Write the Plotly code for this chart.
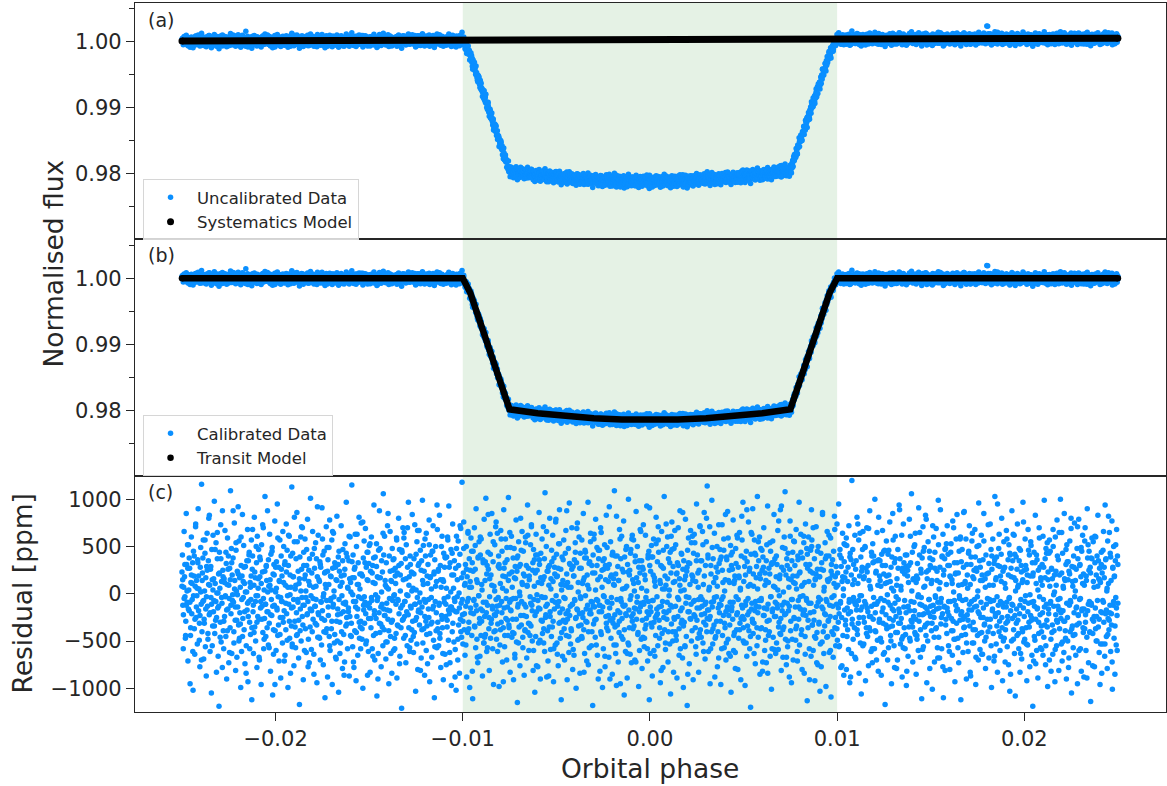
import numpy as np
import plotly.graph_objects as go
from plotly.subplots import make_subplots

# ---- values ----
# phase range covered by the (phase-folded) observations
phase_start = -0.025
phase_end = 0.025

# residuals (units of 10 ppm), visit 1, in time order
visit1_resid_10ppm = [
23,41,-12,-58,7,66,18,-3,-47,-29,85,31,-9,52,-71,-16,4,38,27,-95,
-44,12,60,-21,-6,33,-102,45,19,-37,-64,8,71,-25,14,-2,-53,36,90,-18,
5,-31,-77,28,49,-11,116,-40,22,-8,57,-69,-27,3,43,-56,17,-87,29,64,
-13,-48,35,80,-22,9,-61,26,-4,-105,47,15,-34,62,-19,-7,98,-42,11,-28,
54,-83,1,37,-15,-66,21,-119,44,6,-30,73,-51,13,-10,88,25,-39,-58,16,
-24,67,-2,-45,32,-90,10,59,-16,40,-73,-5,27,-36,109,-12,48,-63,20,-1,
38,-9,-52,75,14,-28,-81,46,3,-67,24,-14,92,-33,56,-47,-20,7,-99,30,
-61,19,84,-26,-4,51,-38,11,-74,29,145,-55,2,-17,68,-93,35,-8,44,-30,
12,-43,-6,57,-112,26,40,-19,-63,9,81,-35,17,-50,-2,33,-78,61,-24,6,
47,-27,-70,18,36,-8,-96,52,-13,23,-41,70,-58,4,-26,103,-11,-45,29,14,
-36,88,-19,-54,8,-31,63,15,-82,42,-6,-23,49,-107,21,-64,31,-12,77,-39,
2,-60,34,-15,95,-44,-3,28,-71,13,57,-25,-89,40,-8,19,-52,66,-30,50,
-18,31,-65,9,-38,74,-21,46,-2,-99,30,-11,61,-47,20,-84,7,-34,113,-56,
43,-14,18,-76,55,-29,5,-57,37,-20,86,-43,-6,24,-68,11,-117,39,-16,60,
-50,26,-4,70,-33,-91,44,-12,16,58,-37,3,-62,30,-22,79,-8,-48,25,-73,
9,-35,101,-17,-59,22,-40,66,-27,7,-85,48,-13,-31,54,-6,37,-94,18,-46,
62,-22,-46,13,34,-70,28,-9,-54,91,-18,41,-75,0,45,-28,-110,23,-41,71,
-7,49,-88,36,-23,10,-45,78,-60,19,-5,-37,57,-96,27,-14,64,-3,-52,33,
29,-67,15,-29,82,-50,-16,31,-104,45,24,-63,8,-21,72,-40,12,-79,47,-10,
-43,20,-72,53,-11,-34,97,-25,39,-58,6,-19,35,-87,16,60,-44,2,-31,115,
17,-56,41,-8,-78,26,-39,63,-14,-92,50,-24,10,-65,33,-3,81,-47,21,-35,
-29,75,-5,-48,19,-100,38,-17,56,-31,-9,69,-53,28,-12,44,-86,14,-61,32,
51,-15,-83,24,-36,60,-7,-58,30,12,-44,94,-22,-70,39,-1,-26,53,-108,18,
-4,-63,46,-20,88,-41,17,-32,-77,35,-11,23,-55,106,-16,-38,61,-23,9,-69,
33,-10,-51,72,-27,5,-95,40,-18,66,-45,14,-30,-84,48,-7,25,-60,37,-1,
-58,27,11,-42,59,-89,22,-6,-34,80,-21,47,-66,3,-15,32,-121,44,-28,70,
15,-47,65,-24,-8,37,-73,52,-19,-55,28,-2,97,-36,18,-61,40,-13,-49,23,
-38,84,-29,6,-62,21,-41,73,-11,-103,42,-25,55,-4,-80,30,-17,67,-33,1,
46,-20,-68,35,-14,99,-52,10,-37,24,-86,58,-9,-29,64,-43,19,-74,31,-6,
-25,52,-93,17,41,-32,5,-67,45,-16,72,-49,21,-110,36,-8,50,-39,13,-57,
68,-30,24,-55,-12,83,-42,30,-78,7,-23,61,-36,15,-91,43,-5,28,-64,38,
-11,-75,39,-28,60,-3,-49,93,-21,-62,33,-14,47,-97,20,-40,74,-17,6,-51,
35,-8,-59,27,-102,48,-19,15,-70,56,-33,1,-84,42,-27,69,-10,-46,118,-22,
-53,22,76,-38,9,-65,31,-13,50,-88,18,-41,64,-5,-30,37,-99,25,-15,59,
7,-44,33,-111,45,-21,-6,70,-35,26,-57,90,-18,-48,12,-73,39,-2,55,-31,
-66,41,-16,58,-29,4,-87,36,-9,-52,79,-24,14,-43,101,-20,-61,30,-12,44,
26,-37,-81,16,63,-47,20,-27,85,-13,-58,34,-96,8,-22,52,-39,71,-6,-48,
-19,64,-32,-4,40,-98,27,-54,11,67,-30,-8,45,-72,19,-36,89,-15,-56,33,
58,-26,3,-70,36,-14,-44,102,-33,21,-9,-83,49,-18,61,-46,7,-27,38,-91,
-42,17,-64,29,-5,78,-51,24,-115,40,-11,55,-35,2,-76,31,-23,46,-8,66,
10,-57,45,-23,-86,19,-38,60,-14,30,-68,8,94,-41,27,-60,15,-32,-3,52,
-34,73,-12,-50,25,-81,47,-6,36,-104,22,-45,63,-19,-1,41,-77,12,-52,86,
31,-16,-90,43,-28,11,58,-42,-4,71,-37,18,-61,107,-25,-13,50,-88,24,-39,
-71,28,9,-35,80,-24,-59,16,-45,34,-7,62,-29,-93,38,-16,21,-54,76,-2,
42,-52,19,-13,-76,53,-31,89,-20,-47,26,-112,4,39,-66,14,-28,57,-37,9,
-5,-30,67,-44,21,-91,12,-18,48,-62,96,-23,31,-53,7,-39,70,-11,-80,29,
19,-65,36,-7,54,-26,-100,33,-16,75,-49,2,-34,60,-21,-84,43,-5,27,-45,
-47,11,-25,85,-38,17,-63,46,-2,-29,38,-71,20,-12,97,-40,5,-57,34,-17,
64,-21,-55,30,-9,-118,41,-32,58,-14,22,-46,79,-27,-6,49,-65,15,-90,37,
-12,46,-82,18,-40,65,-19,7,-99,35,-58,26,-3,52,-77,30,-24,83,-36,-8,
27,-39,13,-67,92,-15,-28,55,-47,20,-10,-85,44,-31,16,-54,109,-22,40,-63,
-54,82,-6,-33,29,-72,14,-41,68,-20,-95,37,-8,61,-26,5,-48,23,-13,-107,
39,-12,-61,47,-23,8,-89,31,-52,100,-17,-36,25,-64,43,-2,-73,58,-29,15,
-21,57,-34,3,-70,40,-16,87,-27,-9,50,-43,12,-98,35,-60,22,-14,66,-48,
6,-79,28,-46,73,-11,-56,20,-37,62,-4,-26,93,-19,-71,38,-8,45,-112,30,
-63,24,-19,51,-35,-87,39,-7,58,-30,17,-66,8,-44,81,-23,-3,34,-55,71,
44,-28,-47,14,-94,30,-13,66,-42,5,-78,27,-25,103,-38,19,-59,9,-20,50,
-9,60,-72,37,-18,4,-53,44,-106,22,-32,76,-14,-50,29,-83,48,-27,13,-40,
52,-44,21,-89,33,-24,70,-6,-37,16,88,-58,3,-31,42,-15,-68,26,-99,35,
-30,15,-56,79,-10,-45,24,-118,46,-19,59,-4,-74,32,-26,67,-11,-50,20,61,
18,-91,43,-22,-7,54,-36,13,-64,95,-28,41,-47,7,-83,25,-15,72,-38,-3,
-46,35,-13,66,-52,10,-30,86,-21,-69,30,-9,55,-40,114,-17,38,-61,4,-27,
71,-24,-58,21,-40,99,-14,-53,37,-8,-33,64,-88,17,-45,28,-3,50,-77,23,
-15,-68,32,-11,47,-29,-96,39,-6,73,-44,12,-23,58,-57,3,-36,84,-19,-52,
36,-17,87,-48,14,-63,25,-33,-9,51,-104,30,-14,44,-27,78,-60,11,-41,19,
-62,48,-3,-38,62,-20,-80,28,-47,17,65,-31,6,-91,40,-12,57,-24,97,-36,
13,-52,29,-97,20,-8,45,-66,34,-22,-5,76,-39,24,-58,10,-120,42,-16,63,
-27,90,-42,8,-31,57,-18,-74,41,-13,29,-55,103,-20,-46,35,-7,60,-85,16,
48,-7,-36,25,-82,39,-23,70,-15,-60,22,-38,14,-73,52,-29,93,-11,-44,27,
-40,21,-66,45,-3,-101,33,-19,56,-46,8,84,-24,37,-9,-63,18,-52,31,-15,
4,-59,77,-30,16,-42,89,-26,-81,28,-12,49,-67,2,-35,60,-22,108,-48,20,
-75,37,-10,-56,43,-18,7,-88,26,61,-39,15,-94,35,-6,44,-70,12,-25,55,
30,-14,-49,68,-34,19,-71,40,-7,-27,97,-54,23,-16,63,-43,8,-80,38,-2,
-19,54,-84,12,-45,74,-23,-5,48,-113,27,-36,60,-10,-58,31,-20,46,-66,89,
57,-33,22,-60,9,-28,37,-92,15,-47,71,-13,-41,26,-75,50,-4,-30,18,-103,
-6,43,-77,33,-51,86,-16,25,-63,7,-34,54,-22,-98,40,-8,66,-45,13,-28,
40,-62,16,-24,59,-109,31,-40,20,-13,-67,45,-2,82,-36,18,-55,29,-11,74,
-49,9,-30,95,-21,-55,47,-10,-78,38,-25,13,64,-44,5,-86,34,-17,52,-33,
23,-80,51,-15,-38,28,-59,72,-6,-94,43,-19,36,-63,120,-27,10,-48,31,-8,
-36,62,-11,-69,35,-17,81,-43,11,-31,57,-84,19,-2,-52,39,-106,24,-14,47,
66,-25,-53,18,-8,49,-92,27,-36,70,-15,-45,30,-76,14,-24,88,-39,5,-61,
-13,40,-73,53,-27,-4,34,-58,100,-20,-40,24,-11,65,-49,9,-82,36,-30,19,
35,-47,8,-86,42,-19,67,-31,-64,21,-7,46,-117,30,-22,56,-37,12,-70,42,
-57,20,-35,76,-12,-44,28,-95,39,-16,85,-28,3,-55,33,-10,61,-41,-3,-79,
16,-70,47,-6,-31,94,-20,37,-53,8,-26,62,-88,27,-45,74,-14,-36,21,-58,
-43,29,-97,41,-14,25,-66,12,-35,79,-18,-50,33,-8,106,-30,44,-72,15,-24,
50,-18,-41,64,-27,-85,19,-48,32,-3,-60,91,-22,41,-11,-67,26,-4,-111,38,
-22,71,-56,7,49,-35,-14,83,-44,23,-94,16,-31,55,-20,-6,45,-79,30,-13,
28,-39,14,-101,36,-12,60,-25,-72,44,-2,-37,69,-16,24,-57,-9,99,-46,5,
-68,12,89,-32,-5,-58,40,-21,63,-110,25,-14,37,-81,48,-27,10,-42,72,-19,
42,-55,-23,30,-80,18,-8,53,-39,15,-65,77,-29,2,-48,33,-93,21,-12,58,
-31,84,-16,-47,22,-73,45,-5,-28,60,-112,34,-19,47,-7,-62,28,-36,87,-24,
11,-43,58,-90,31,-22,6,-61,43,-17,72,-34,10,-87,39,-8,56,-52,18,-30,
-52,25,-6,68,-38,-96,27,-13,50,-44,3,-70,96,-21,35,-59,14,-25,62,-41,
20,-64,36,-15,85,-33,-50,16,-79,41,-11,192,-27,188,-40,22,-68,9,-35,74,
-8,47,-99,26,-18,58,-42,-7,32,-66,103,-24,15,-53,39,-3,-83,30,-20,48,
63,-29,-60,19,-45,13,80,-36,-92,24,-14,55,-47,28,-72,6,-31,67,-9,-56,
-24,36,-75,52,-4,-103,41,-18,27,-50,88,-26,-12,63,-38,17,-63,42,-108,14,
39,-16,-44,74,-28,9,-58,35,-21,-83,46,-6,30,-69,12,-40,97,-15,-51,25,
-48,58,-2,-36,26,-92,20,-54,68,-10,-30,41,-77,19,-23,51,-9,-65,33,-119,
22,-71,44,-13,-49,83,-27,11,-60,36,-15,-89,25,-42,70,-3,28,-57,14,-34,
-59,31,-20,61,-6,-46,99,-33,17,-75,48,-11,-28,54,-98,23,-16,43,-70,8,
45,-8,-82,27,-41,16,-64,50,-1,-39,20,-93,60,-22,9,-55,78,-30,-13,36,
-17,65,-37,-5,100,-26,-53,22,-71,43,-18,6,-62,85,-29,14,-47,31,-90,52,
34,-50,15,-78,24,-12,56,-40,-9,69,-105,29,-34,8,-57,40,-20,75,-43,3,
-65,26,-14,48,-95,37,-23,79,-31,-6,31,-58,18,-82,45,-16,62,-36,21,-88,
9,-37,70,-22,-60,14,-46,90,-18,52,-73,25,-8,-40,28,-114,38,-12,59,-27,
-42,55,-29,7,-77,33,-15,60,-50,-24,40,-7,83,-35,16,-62,27,-96,12,-19,
31,-84,22,-53,46,-9,-30,17,-66,94,-21,37,-45,3,-79,56,-26,11,-38,65,
-20,43,-61,14,-33,77,-101,28,-12,50,-47,19,-85,35,-4,-54,68,-23,40,-10,
]

# residuals (units of 10 ppm), visit 2, in time order
visit2_resid_10ppm = [
8,15,-22,-5,31,-44,-12,3,27,52,-18,-9,-36,20,11,-61,-2,40,-27,74,
-14,6,33,19,-49,-23,2,-70,14,38,-7,-31,57,-16,-3,25,-42,10,83,-20,
29,-11,-55,4,16,-34,47,-8,-25,65,1,-13,22,-46,37,-4,-78,18,-29,12,
-3,44,-17,-39,26,9,-62,15,-21,33,-7,88,-40,5,-14,54,-28,-1,21,-50,
17,-32,60,-6,-45,13,28,-19,2,-84,35,-10,-24,41,-58,7,19,-36,68,-12,
-41,23,-8,50,-30,-2,16,-67,39,-15,11,-27,73,-5,-48,24,-11,30,-19,2,
36,-57,9,-22,4,45,-13,-38,20,-96,28,6,-17,59,-33,14,-43,-4,26,-8,
-25,12,-71,34,-10,23,-49,7,62,-29,-1,40,-15,-53,18,-6,81,-35,9,-44,
55,-9,-28,16,-39,3,71,-24,-12,30,-60,20,-4,47,-21,-77,13,37,-16,-2,
-18,42,-5,-64,27,-13,8,-33,92,-20,15,-47,31,-8,-26,58,-3,-40,22,10,
6,-37,24,-14,49,-55,-7,18,-29,66,-11,3,-43,28,-69,14,-22,39,-6,-30,
-52,19,-2,35,-19,-86,26,-9,43,-32,7,-15,61,-24,12,-45,34,-1,-72,17,
28,-8,-41,63,-16,10,-30,5,-58,21,-37,76,-12,-3,33,-21,-50,15,44,-26,
-10,53,-26,-4,22,-66,38,-18,11,-42,29,-7,-90,17,-31,48,-14,2,-35,64,
41,-23,14,-51,7,-17,85,-39,-5,24,-63,13,-28,36,-2,-47,19,-11,57,-33,
-7,30,-74,20,-36,46,-12,-27,59,-8,-44,16,-1,70,-22,9,-57,31,-15,3,
22,-45,37,-11,-28,4,-53,67,-19,32,-9,-81,25,-38,14,51,-6,-24,40,-60,
-34,11,-16,78,-42,18,-4,-30,45,-13,23,-56,8,-20,94,-37,26,-10,-47,15,
50,-27,-63,13,-9,39,-24,6,-35,57,-17,28,-73,2,-14,43,-31,20,-5,-88,
-19,61,-3,-48,30,-15,72,-40,17,-6,-29,48,-21,11,-54,26,-8,66,-37,7,
13,-20,45,-82,24,-7,-34,51,-12,15,-67,38,-2,-26,60,-44,10,-18,33,-52,
-46,34,-9,21,-57,84,-25,-3,42,-31,9,-16,55,-40,3,-23,76,-13,-61,29,
31,-12,-38,58,-20,6,-93,27,-44,18,-5,49,-28,14,-36,65,-17,-6,23,-41,
-5,48,-68,16,-27,38,-14,-52,29,-2,80,-33,12,-46,21,-11,-39,54,-24,9,
62,-31,19,-44,-10,71,-18,33,-60,8,-23,41,-76,25,-7,-15,36,-49,17,-3,
-29,15,-52,37,-4,-22,66,-11,24,-87,30,-19,5,46,-35,13,-58,28,-9,79,
18,-64,27,-8,53,-30,10,-41,-16,36,-4,-70,43,-21,88,-27,7,-45,32,-13,
-37,26,-11,-59,19,-6,44,-25,69,-17,12,-48,27,-3,-33,57,-20,14,-83,38,
44,-16,-30,9,-75,32,-21,55,-8,-40,22,-13,63,-28,4,-54,30,-7,46,-19,
-12,70,-43,25,-14,-2,37,-66,15,-31,49,-9,-23,31,-90,18,-4,41,-26,10,
9,-35,21,-97,40,-18,14,-29,58,-5,-45,26,-12,77,-38,6,-21,50,-63,23,
-54,20,-6,47,-24,62,-37,11,-15,34,-72,17,-3,-41,28,-19,68,-10,35,-28,
26,-9,-47,15,-33,3,-58,41,-22,91,-14,-31,39,-7,20,-60,13,-25,53,-16,
-21,57,-14,-36,11,-81,29,-8,46,-19,5,-52,74,-27,16,-40,-2,33,-12,61,
47,-40,12,-25,67,-13,-49,22,-4,30,-65,9,-18,43,-28,86,-34,4,-55,19,
-3,28,-85,33,-19,10,-27,54,-39,14,-8,63,-24,-56,35,-15,22,-6,-42,71,
35,-22,-6,52,-61,19,-11,-33,80,-26,41,-17,7,-95,30,-9,49,-37,12,-4,
-47,17,-29,8,-40,73,-20,36,-12,-58,25,-3,46,-31,15,-70,39,-14,59,-23,
12,-66,41,-18,26,-9,-44,14,-79,32,-22,59,-6,19,-38,4,-26,82,-15,-50,
-27,38,-12,-52,89,-34,8,-19,27,-45,65,-10,-30,21,-63,43,-8,17,-36,5,
55,-14,21,-37,-5,46,-72,28,-23,9,-49,35,-16,-84,12,-28,54,-3,31,-58,
-16,33,-59,7,-24,40,-11,67,-35,-2,20,-43,93,-18,-38,25,-9,48,-21,-67,
30,-50,16,-13,77,-29,-6,-48,19,56,-26,11,-37,5,-61,36,-14,22,-3,44,
-38,9,-22,61,-17,-64,31,-7,42,-28,13,-91,24,-10,50,-33,70,-19,-45,16,
21,-73,45,-9,-32,18,-53,26,-14,84,-40,3,-21,37,-6,-46,15,-29,62,-12,
-60,24,-4,36,-43,11,68,-25,7,-37,22,-15,-56,41,-8,29,-76,18,-2,53,
17,-28,59,-45,13,-21,-9,39,-88,20,-32,47,-4,15,-67,26,-12,-38,74,-7,
-25,64,-17,-2,28,-55,16,-30,50,-11,-42,23,-19,69,-36,8,-24,44,-58,33,
40,-11,-39,22,-70,35,-8,81,-27,14,-5,-51,30,-15,45,-62,11,-33,19,-1,
-9,46,-26,13,-50,6,-34,57,-18,-78,37,-24,9,-41,27,-16,89,-31,4,-48,
24,-57,33,-7,41,-20,-82,19,-13,30,-47,61,-28,3,-35,16,-9,52,-43,12,
-44,16,-1,-29,65,-38,22,-12,-59,45,-21,8,-33,79,-16,-50,25,-6,38,-24,
11,-31,72,-19,-46,27,-4,-36,14,-68,52,-15,28,-9,-25,39,-77,20,-13,47,
-33,53,-15,30,-8,-61,19,44,-26,11,-39,70,-7,-48,22,-18,33,-57,9,-2,
58,-22,-44,10,-27,86,-35,13,-6,-52,20,-28,45,-11,-83,31,-17,64,-38,16,
-14,39,-67,24,-3,-19,51,-42,28,-9,-64,14,-25,56,-32,7,-46,21,-5,73,
32,-6,-27,-55,40,-16,9,-71,36,-21,17,-34,95,-12,-40,29,-8,42,-25,-10,
-50,27,11,-38,-14,58,-29,20,-5,43,-85,18,-11,35,-48,62,-23,3,-31,26,
7,-42,48,-12,-63,23,-37,15,76,-24,-8,30,-53,12,-19,46,-35,-1,55,-28,
-26,19,-8,-45,33,-74,41,-16,4,-30,59,-22,17,-40,9,-65,28,-14,37,-55,
43,-35,15,-21,57,-10,-48,26,-33,68,-13,2,-59,24,-28,40,-6,-81,20,-17,
-20,65,-51,8,-29,16,-39,47,-10,-25,34,-68,21,-7,80,-37,13,-44,28,-3,
14,-15,-33,71,-22,-60,30,-5,49,-18,11,-41,-16,56,-30,19,-89,38,-11,45,
-41,22,-10,37,-76,13,-24,61,-37,20,-50,8,35,-27,14,-53,44,-20,-7,66,
28,-53,36,-17,6,-43,82,-28,-12,39,-21,-72,27,-8,18,-34,52,-15,-60,31,
]

# transit model (panel b) read at its corners / along the bottom
transit_phase = [-0.025, -0.0100, -0.0096, -0.0075, -0.0060, -0.0045, -0.0030, -0.0015, 0.0,
                 0.0015, 0.0030, 0.0045, 0.0060, 0.0075, 0.0096, 0.0100, 0.025]
transit_flux = [1.0, 1.0, 0.9978, 0.98015, 0.97955, 0.97910, 0.97880, 0.97862, 0.97855,
                0.97862, 0.97880, 0.97910, 0.97955, 0.98015, 0.9978, 1.0, 1.0]

# systematics model (panel a): slight linear trend
sys_phase = [-0.025, 0.025]
sys_flux = [1.00015, 1.00057]

# shaded transit window
window = [-0.01, 0.01]

# axis ticks
flux_ticks = [0.98, 0.99, 1.00]
flux_ticktext = ["0.98", "0.99", "1.00"]
flux_minor = [0.975, 0.985, 0.995, 1.005]
res_ticks = [-1000, -500, 0, 500, 1000]
res_ticktext = ["\u22121000", "\u2212500", "0", "500", "1000"]
x_ticks = [-0.02, -0.01, 0.0, 0.01, 0.02]
x_ticktext = ["\u22120.02", "\u22120.01", "0.00", "0.01", "0.02"]

# ---- derived series (phase-folded, both visits) ----
r1 = np.array(visit1_resid_10ppm, dtype=float) * 10.0
r2 = np.array(visit2_resid_10ppm, dtype=float) * 10.0
p1 = np.linspace(phase_start, phase_end, len(r1))
p2 = np.linspace(phase_start, phase_end, len(r2))
phase_all = np.concatenate([p1, p2])
resid_all = np.concatenate([r1, r2])
order = np.argsort(phase_all, kind="stable")
phase = phase_all[order]
resid = resid_all[order]  # ppm
calibrated = np.interp(phase, transit_phase, transit_flux) + resid * 1e-6
uncalibrated = calibrated * np.interp(phase, sys_phase, sys_flux)

BLUE = "#0a8fff"
INK = "#262626"
FONT = "DejaVu Sans"

fig = make_subplots(rows=3, cols=1, shared_xaxes=True, vertical_spacing=0)

mk = dict(color=BLUE, size=5.5, line=dict(width=0))

# panel (a)
fig.add_trace(go.Scatter(x=phase, y=uncalibrated, mode="markers", marker=mk,
                         name="Uncalibrated Data", legend="legend"), row=1, col=1)
fig.add_trace(go.Scatter(x=sys_phase, y=sys_flux, mode="lines",
                         line=dict(color="black", width=7), showlegend=False,
                         hoverinfo="skip"), row=1, col=1)
fig.add_trace(go.Scatter(x=sys_phase, y=sys_flux, mode="markers",
                         marker=dict(color="black", size=7, line=dict(width=0)),
                         name="Systematics Model", legend="legend"), row=1, col=1)

# panel (b)
fig.add_trace(go.Scatter(x=phase, y=calibrated, mode="markers", marker=mk,
                         name="Calibrated Data", legend="legend2"), row=2, col=1)
fig.add_trace(go.Scatter(x=transit_phase, y=transit_flux, mode="lines",
                         line=dict(color="black", width=6.5), showlegend=False,
                         hoverinfo="skip"), row=2, col=1)
fig.add_trace(go.Scatter(x=[transit_phase[0], transit_phase[-1]],
                         y=[transit_flux[0], transit_flux[-1]], mode="markers",
                         marker=dict(color="black", size=6.5, line=dict(width=0)),
                         name="Transit Model", legend="legend2"), row=2, col=1)

# panel (c)
fig.add_trace(go.Scatter(x=phase, y=resid, mode="markers", marker=mk,
                         showlegend=False), row=3, col=1)

axis_common = dict(showline=True, mirror=True, linecolor=INK, linewidth=1.3,
                   showgrid=False, zeroline=False, tickcolor=INK, tickwidth=1.3,
                   tickfont=dict(family=FONT, size=21, color=INK))

xr = [-0.02751, 0.02757]
fig.update_xaxes(range=xr, **axis_common)
fig.update_xaxes(ticks="", showticklabels=False, row=1, col=1)
fig.update_xaxes(ticks="", showticklabels=False, row=2, col=1)
fig.update_xaxes(ticks="outside", ticklen=8, tickmode="array", tickvals=x_ticks,
                 ticktext=x_ticktext, row=3, col=1)

flux_axis = dict(range=[0.9701, 1.0059], tickmode="array", tickvals=flux_ticks,
                 ticktext=flux_ticktext, ticks="outside", ticklen=8,
                 minor=dict(tickmode="array", tickvals=flux_minor, ticks="outside",
                            ticklen=5, tickcolor=INK, tickwidth=1.1))
fig.update_yaxes(**axis_common)
fig.update_yaxes(row=1, col=1, **flux_axis)
fig.update_yaxes(row=2, col=1, **flux_axis)
fig.update_yaxes(row=3, col=1, range=[-1250, 1250], tickmode="array", tickvals=res_ticks,
                 ticktext=res_ticktext, ticks="outside", ticklen=8)

# shaded transit window spanning all panels
fig.add_shape(type="rect", xref="x", yref="paper", x0=window[0], x1=window[1],
              y0=0, y1=1, fillcolor="rgba(0,128,0,0.1)", line=dict(width=0),
              layer="below")

ann_font = dict(family=FONT, size=19, color=INK)
title_font = dict(family=FONT, size=26.5, color=INK)
annotations = [
    dict(text="(a)", x=0.0107, y=0.9767, xref="paper", yref="paper",
         xanchor="left", yanchor="middle", showarrow=False, font=ann_font),
    dict(text="(b)", x=0.0107, y=0.6446, xref="paper", yref="paper",
         xanchor="left", yanchor="middle", showarrow=False, font=ann_font),
    dict(text="(c)", x=0.0107, y=0.3103, xref="paper", yref="paper",
         xanchor="left", yanchor="middle", showarrow=False, font=ann_font),
    dict(text="Normalised flux", x=-0.0795, y=0.6326, xref="paper", yref="paper",
         xanchor="center", yanchor="middle", textangle=-90, showarrow=False,
         font=title_font),
    dict(text="Residual [ppm]", x=-0.1091, y=0.1664, xref="paper", yref="paper",
         xanchor="center", yanchor="middle", textangle=-90, showarrow=False,
         font=title_font),
    dict(text="Orbital phase", x=0.4995, y=-0.079, xref="paper", yref="paper",
         xanchor="center", yanchor="middle", showarrow=False, font=title_font),
]

legend_common = dict(xanchor="left", yanchor="top", bgcolor="rgba(255,255,255,0.8)",
                     bordercolor="#d6d6d6", borderwidth=1, itemwidth=43,
                     font=dict(family=FONT, size=16.5, color=INK), tracegroupgap=0)

fig.update_layout(
    width=1167, height=786,
    margin=dict(l=135, r=1, t=3, b=74),
    paper_bgcolor="white", plot_bgcolor="white",
    font=dict(family=FONT, color=INK),
    annotations=annotations,
    legend=dict(x=0.0078, y=0.7518, **legend_common),
    legend2=dict(x=0.0078, y=0.4189, **legend_common),
    hovermode=False,
)

fig.write_html("out.html", config={"displayModeBar": False},
               post_script="document.body.style.margin='0px';")
